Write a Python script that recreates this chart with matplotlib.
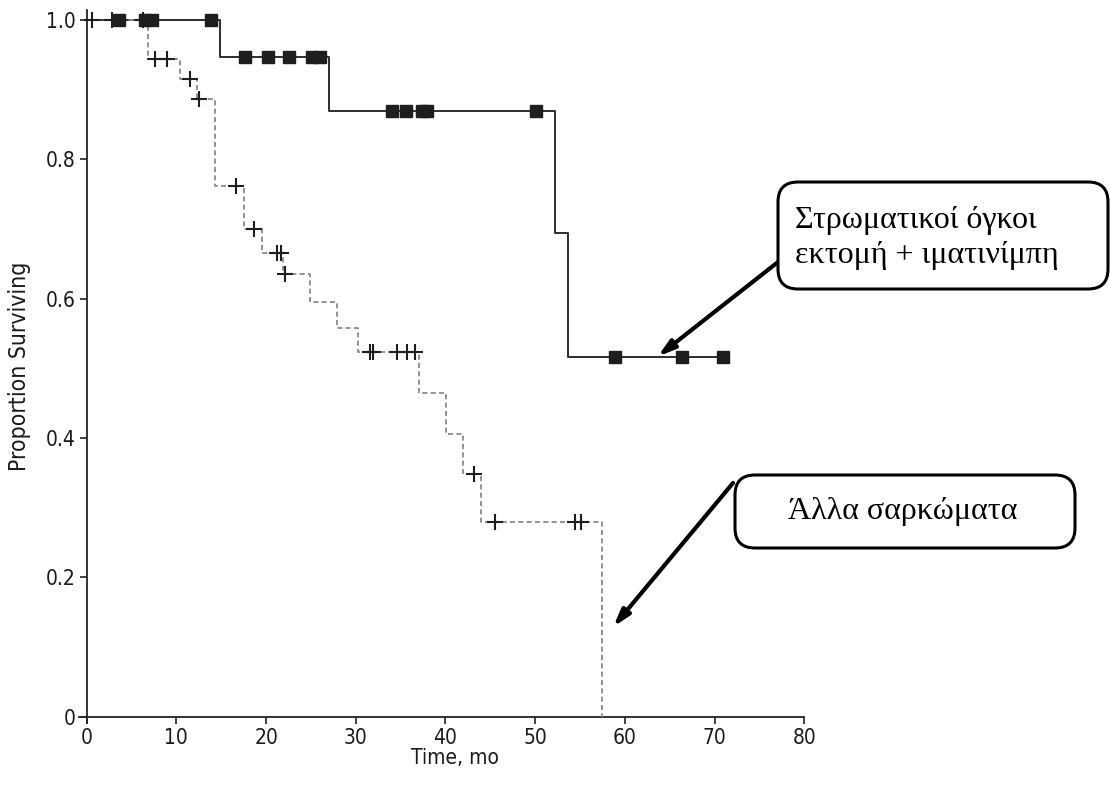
import numpy as np
import matplotlib
matplotlib.use("Agg")
import matplotlib.pyplot as plt
from matplotlib.patches import FancyBboxPatch
from matplotlib import font_manager

# ---------------- data ----------------
# Solid curve: stromal tumours, excision + imatinib
solid_event_times = [0.0, 14.9, 27.0, 52.2, 53.7]
solid_survival = [1.0, 0.947, 0.870, 0.695, 0.517]
solid_end_time = 71.0
solid_censored = [3.6, 6.5, 7.3, 13.9, 17.7, 20.2, 22.6, 25.1, 26.0,
                  34.0, 35.6, 37.4, 37.9, 50.1, 58.9, 66.4, 70.9]

# Dashed curve: other sarcomas
dash_event_times = [0.0, 6.8, 10.4, 12.3, 14.3, 17.5, 19.5, 21.9, 24.9,
                    27.9, 30.2, 37.1, 40.1, 42.0, 44.0, 57.5]
dash_survival = [1.0, 0.944, 0.916, 0.887, 0.762, 0.700, 0.666, 0.635, 0.595,
                 0.558, 0.523, 0.464, 0.406, 0.348, 0.279, 0.0]
dash_censored = [0.6, 2.8, 6.3, 7.6, 9.0, 11.5, 12.5, 16.7, 18.6, 21.2, 21.7,
                 22.1, 31.6, 31.9, 34.6, 35.7, 36.6, 43.2, 45.5, 54.4, 55.1]

x_ticks = [0, 10, 20, 30, 40, 50, 60, 70, 80]
x_ticklabels = ["0", "10", "20", "30", "40", "50", "60", "70", "80"]
y_ticks = [0, 0.2, 0.4, 0.6, 0.8, 1.0]
y_ticklabels = ["0", "0.2", "0.4", "0.6", "0.8", "1.0"]

x_label = "Time, mo"
y_label = "Proportion Surviving"
box1_text = "Στρωματικοί όγκοι\nεκτομή + ιματινίμπη"
box2_text = "Άλλα σαρκώματα"


def step_value(times, surv, t):
    idx = np.searchsorted(times, t, side="right") - 1
    return np.asarray(surv)[idx]


# ---------------- figure ----------------
plt.rcParams["lines.scale_dashes"] = False
sans = ["DejaVu Sans", "Liberation Sans"]
serif = ["Liberation Serif", "DejaVu Serif"]
axis_font = font_manager.FontProperties(family=sans, stretch="condensed",
                                        size=15)
xlabel_font = font_manager.FontProperties(family=sans, stretch="condensed",
                                          size=15)
ylabel_font = font_manager.FontProperties(family=sans, stretch="condensed",
                                          size=16.5)

W, H = 1110, 789
fig = plt.figure(figsize=(W / 100, H / 100), dpi=100)
ax = fig.add_axes([79.3 / W, 1 - 722.7 / H, 725 / W, 712.7 / H])
ax.set_xlim(-0.82, 80)
ax.set_ylim(-0.0086, 1.0144)

for s in ["top", "right"]:
    ax.spines[s].set_visible(False)
ax.spines["left"].set_position(("data", 0))
ax.spines["bottom"].set_position(("data", 0))
for s in ["left", "bottom"]:
    ax.spines[s].set_linewidth(1.3)
    ax.spines[s].set_color("#222222")

# solid curve
sx = list(solid_event_times) + [solid_end_time]
sy = list(solid_survival) + [solid_survival[-1]]
ax.step(sx, sy, where="post", color="#2e2e2e", lw=1.4, zorder=3)
ax.plot(solid_censored,
        step_value(solid_event_times, solid_survival, solid_censored),
        ls="none", marker="s", ms=8, color="#1e1e1e", zorder=4)

# dashed curve
ax.step(dash_event_times, dash_survival, where="post", color="#8a8a8a",
        lw=1.3, dashes=(3.6, 2.4), zorder=3)
ax.plot(dash_censored,
        step_value(dash_event_times, dash_survival, dash_censored),
        ls="none", marker="+", ms=11, mew=1.5, color="#1e1e1e", zorder=4)

ax.set_xticks(x_ticks)
ax.set_xticklabels(x_ticklabels)
ax.set_yticks(y_ticks)
ax.set_yticklabels(y_ticklabels)
ax.tick_params(direction="out", length=5, width=1.2, color="#222222", pad=3)
for lab in ax.get_xticklabels() + ax.get_yticklabels():
    lab.set_fontproperties(axis_font)
    lab.set_color("#1a1a1a")

fig.text(455 / W, 1 - 758 / H, x_label, ha="center", va="center",
         fontproperties=xlabel_font, color="#1a1a1a")
fig.text(20 / W, 1 - 366 / H, y_label, ha="center", va="center",
         rotation=90, fontproperties=ylabel_font, color="#1a1a1a")

# annotation boxes
def add_box(x0, y0, x1, y1):
    p = FancyBboxPatch((x0 / W, 1 - y1 / H), (x1 - x0) / W, (y1 - y0) / H,
                       boxstyle="round,pad=0,rounding_size=0.018",
                       transform=fig.transFigure, fc="white", ec="black",
                       lw=2.2, zorder=5, mutation_aspect=W / H)
    fig.patches.append(p)

add_box(778, 182, 1108, 289)
add_box(735, 475, 1075, 548)

fig.text(795 / W, 1 - 238 / H, box1_text, ha="left", va="center",
         fontsize=23, family=serif, color="black", linespacing=1.25, zorder=6)
fig.text(903 / W, 1 - 512 / H, box2_text, ha="center", va="center",
         fontsize=23, family=serif, color="black", zorder=6)

# arrows (tips at points on the curves)
arrowprops = dict(arrowstyle="-|>,head_length=1.0,head_width=0.3",
                  color="black", lw=3, shrinkA=0, shrinkB=0)
ax.annotate("", xy=(63.66, 0.517), xycoords="data",
            xytext=(778, H - 262), textcoords="figure pixels",
            arrowprops=arrowprops, annotation_clip=False)
ax.annotate("", xy=(58.7, 0.129), xycoords="data",
            xytext=(733, H - 483), textcoords="figure pixels",
            arrowprops=arrowprops, annotation_clip=False)

fig.savefig("out.png", dpi=100)
